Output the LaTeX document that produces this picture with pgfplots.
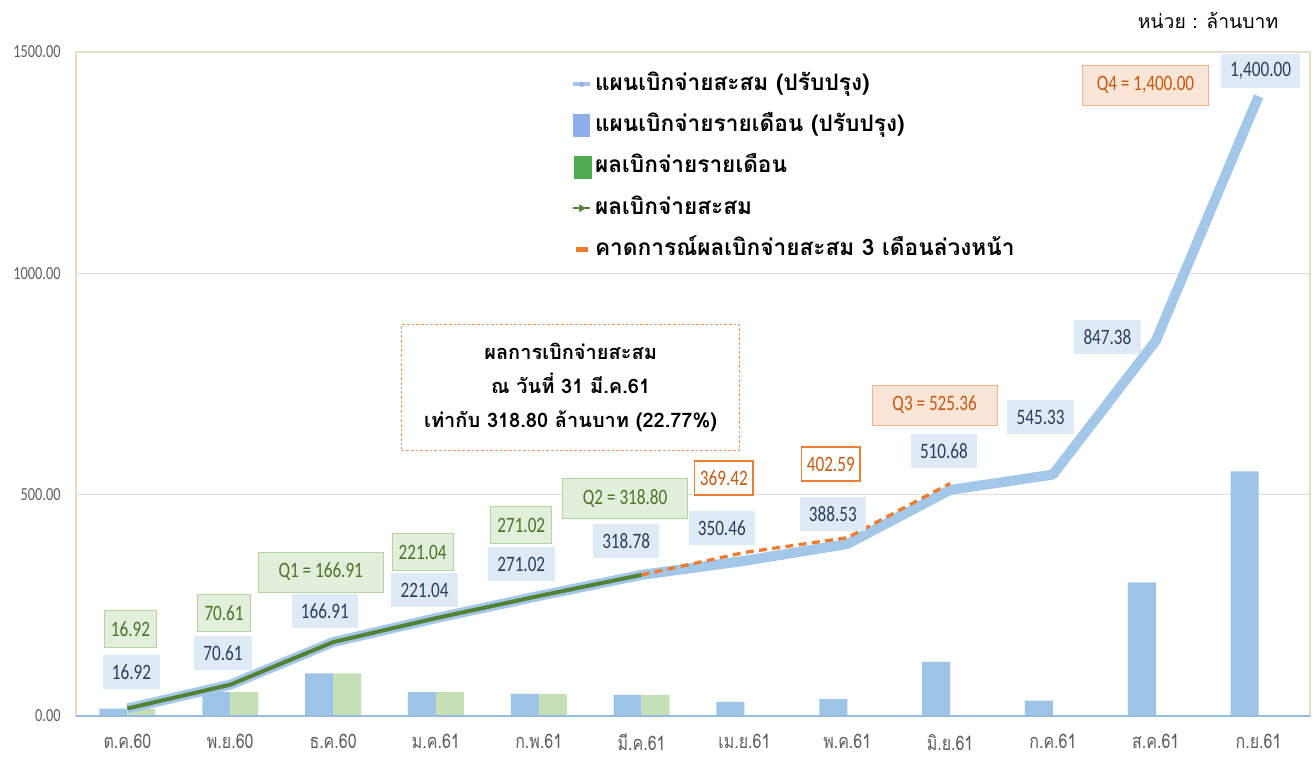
\documentclass[border=0pt]{standalone}
\usepackage{fontspec}
\usepackage{pgfplots}
\pgfplotsset{compat=1.18}
\setmainfont{Loma}[Script=Thai]
\newfontfamily\thai{Loma}[Script=Thai]
\newfontfamily\thaicond{Loma}[Script=Thai,FakeStretch=0.8]
\newfontfamily\numc{Carlito}[FakeStretch=0.78]

\definecolor{planbar}{RGB}{157,195,230}
\definecolor{planline}{RGB}{163,199,232}
\definecolor{actbar}{RGB}{197,224,180}
\definecolor{actline}{RGB}{84,130,53}
\definecolor{legGreen}{RGB}{80,172,80}
\definecolor{fcst}{RGB}{237,125,49}
\definecolor{framec}{RGB}{232,220,204}
\definecolor{gridc}{RGB}{222,222,222}
\definecolor{basec}{RGB}{150,188,224}
\definecolor{tickc}{RGB}{95,95,95}
\definecolor{bluebox}{RGB}{222,234,246}
\definecolor{bluetxt}{RGB}{44,62,92}
\definecolor{greenbox}{RGB}{226,239,218}
\definecolor{greenbrd}{RGB}{180,212,160}
\definecolor{greentxt}{RGB}{84,112,40}
\definecolor{orbox}{RGB}{251,229,214}
\definecolor{orbrd}{RGB}{240,180,140}
\definecolor{ortxt}{RGB}{197,90,17}

\begin{document}
\begin{tikzpicture}[
  blab/.style={fill=bluebox, text=bluetxt, font=\numc\fontsize{16.5}{17}\selectfont, minimum height=25pt, inner xsep=7pt, inner ysep=3pt},
  glab/.style={fill=greenbox, draw=greenbrd, line width=0.6pt, text=greentxt, font=\numc\fontsize{16.5}{17}\selectfont, minimum height=28pt, inner xsep=5pt, inner ysep=3pt},
  qglab/.style={glab, minimum width=94pt, minimum height=30pt},
  qolab/.style={fill=orbox, draw=orbrd, line width=0.6pt, text=ortxt, font=\numc\fontsize{16.5}{17}\selectfont, minimum width=94pt, minimum height=30pt},
  olab/.style={fill=white, draw=fcst, line width=1.3pt, text=ortxt, font=\numc\fontsize{16.5}{17}\selectfont, minimum height=25pt, inner xsep=4pt, inner ysep=3pt},
]
\path (0,0) rectangle (986.25pt,571.5pt);
\begin{axis}[
  at={(57pt,34.5pt)}, anchor=south west,
  scale only axis, width=925.5pt, height=498pt,
  xmin=-0.5, xmax=11.5, ymin=0, ymax=1500,
  xtick={0,1,2,3,4,5,6,7,8,9,10,11},
  xticklabels={ต.ค.60, พ.ย.60, ธ.ค.60, ม.ค.61, ก.พ.61, มี.ค.61, เม.ย.61, พ.ค.61, มิ.ย.61, ก.ค.61, ส.ค.61, ก.ย.61},
  ytick={0,500,1000,1500},
  yticklabels={0.00,500.00,1000.00,1500.00},
  major tick length=0pt,
  axis line style={draw=framec, line width=0.8pt},
  ymajorgrids, grid style={gridc, line width=0.8pt},
  xticklabel style={font=\thaicond\fontsize{15}{15}\selectfont, text=tickc, yshift=-10pt},
  yticklabel style={font=\numc\fontsize{13.8}{14}\selectfont, text=tickc, xshift=-8pt},
  clip=false,
  legend cell align=left,
  legend style={at={(0.388,0.985)}, anchor=north west, draw=none, fill=white,
    font=\thai\bfseries\fontsize{17}{19}\selectfont,
    nodes={inner sep=2pt, text height=13pt, text depth=4pt},
    row sep=10pt, inner xsep=12pt, inner ysep=6pt},
]
% legend entries
\addlegendimage{legend image code/.code={\draw[planline, line width=3pt] (0pt,0pt) -- (13pt,0pt); \fill[planbar!80!blue!90!black!70] (6.5pt,0pt) circle (1.8pt);}}
\addlegendentry{แผนเบิกจ่ายสะสม (ปรับปรุง)}
\addlegendimage{legend image code/.code={\fill[planbar!90!blue] (0pt,-8.25pt) rectangle (12.5pt,8.25pt);}}
\addlegendentry{แผนเบิกจ่ายรายเดือน (ปรับปรุง)}
\addlegendimage{legend image code/.code={\fill[legGreen] (1pt,-8.25pt) rectangle (14pt,8.25pt);}}
\addlegendentry{ผลเบิกจ่ายรายเดือน}
\addlegendimage{legend image code/.code={\draw[actline, line width=1.5pt] (0pt,0pt) -- (13pt,0pt); \fill[actline] (5pt,-2.5pt) -- (9pt,0pt) -- (5pt,2.5pt) -- cycle;}}
\addlegendentry{ผลเบิกจ่ายสะสม}
\addlegendimage{legend image code/.code={\draw[fcst, line width=3.5pt] (2pt,0pt) -- (11pt,0pt);}}
\addlegendentry{คาดการณ์ผลเบิกจ่ายสะสม 3 เดือนล่วงหน้า}

% monthly plan bars
\addplot[ybar, bar width=21pt, bar shift=-10.5pt, fill=planbar, draw=none, forget plot]
  coordinates {(0,16.92) (1,53.69) (2,96.30) (3,54.13) (4,49.98) (5,47.76) (6,31.68) (7,38.07) (8,122.15) (9,34.65) (10,302.05) (11,552.62)};
% monthly actual bars
\addplot[ybar, bar width=21pt, bar shift=10.5pt, fill=actbar, draw=none, forget plot]
  coordinates {(0,16.92) (1,53.69) (2,96.30) (3,54.13) (4,49.98) (5,47.78)};
% baseline
\draw[basec, line width=1.6pt] (axis cs:-0.5,0) -- (axis cs:11.5,0);
% cumulative plan
\addplot[planline, line width=7.5pt, line join=round, forget plot]
  coordinates {(0,16.92) (1,70.61) (2,166.91) (3,221.04) (4,271.02) (5,318.78) (6,350.46) (7,388.53) (8,510.68) (9,545.33) (10,847.38) (11,1400.00)};
% cumulative actual
\addplot[actline, line width=3pt, line join=round, forget plot]
  coordinates {(0,16.92) (1,70.61) (2,166.91) (3,221.04) (4,271.02) (5,318.80)};
% forecast
\addplot[fcst, line width=2.5pt, dash pattern=on 6pt off 4pt, forget plot]
  coordinates {(5,318.80) (6,369.42) (7,402.59) (8,525.36)};

% data labels
\node[glab] at (axis cs:0.03,196.5) {16.92};
\node[blab] at (axis cs:0.04,99.4) {16.92};
\node[glab] at (axis cs:0.94,232.7) {70.61};
\node[blab] at (axis cs:0.93,142.3) {70.61};
\node[qglab] at (axis cs:1.88,325.3) {Q1 = 166.91};
\node[blab] at (axis cs:1.92,237.2) {166.91};
\node[glab] at (axis cs:2.87,370.5) {221.04};
\node[blab] at (axis cs:2.89,284.6) {221.04};
\node[glab] at (axis cs:3.83,431) {271.02};
\node[blab] at (axis cs:3.83,343.4) {271.02};
\node[qglab] at (axis cs:4.84,492.5) {Q2 = 318.80};
\node[blab] at (axis cs:4.85,395.3) {318.78};
\node[olab] at (axis cs:5.80,537.6) {369.42};
\node[blab] at (axis cs:5.78,424.7) {350.46};
\node[olab] at (axis cs:6.84,569.3) {402.59};
\node[blab] at (axis cs:6.86,456.3) {388.53};
\node[qolab] at (axis cs:7.85,702.6) {Q3 = 525.36};
\node[blab] at (axis cs:7.94,598.6) {510.68};
\node[blab] at (axis cs:8.88,675.4) {545.33};
\node[blab] at (axis cs:9.53,856.2) {847.38};
\node[blab] at (axis cs:11.02,1457) {1,400.00};
\node[qolab] at (axis cs:9.90,1425.4) {Q4 = 1,400.00};

% text box
\node[draw=fcst!80, line width=0.8pt, dash pattern=on 2pt off 1.5pt, fill=white, align=center,
  minimum width=253.5pt, minimum height=94pt,
  font=\thai\bfseries\fontsize{15}{25.5}\selectfont] at (axis cs:4.31,742.1)
  {ผลการเบิกจ่ายสะสม\\ ณ วันที่ 31 มี.ค.61\\ เท่ากับ 318.80 ล้านบาท (22.77\%)};
\end{axis}
\node[font=\thai\fontsize{14.5}{15}\selectfont, text=black] at (906pt,556.5pt) {หน่วย : ล้านบาท};
\end{tikzpicture}
\end{document}
